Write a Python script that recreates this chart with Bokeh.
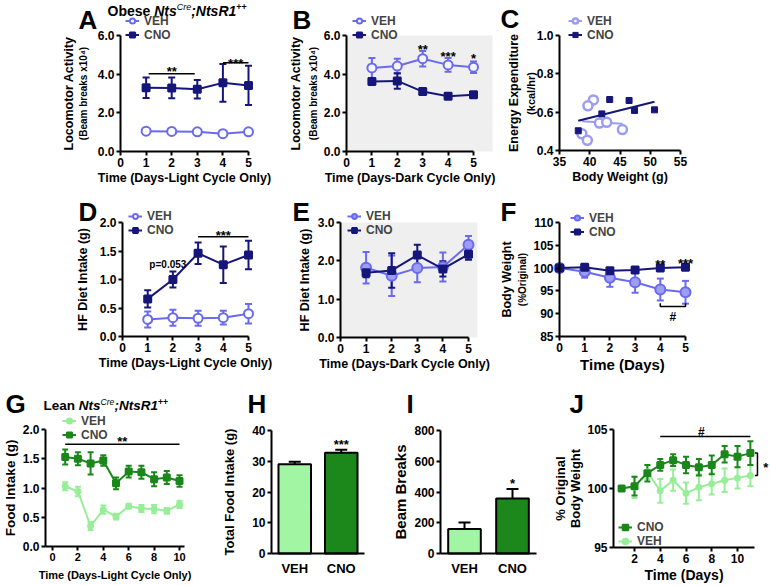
import math
import numpy as np
from bokeh.plotting import figure
from bokeh.layouts import column, row
from bokeh.models import (ColumnDataSource, Whisker, TeeHead, Legend, LegendItem, Label,
                          NumeralTickFormatter, BoxAnnotation, Range1d, FixedTicker)
from bokeh.embed import file_html
from bokeh.resources import INLINE

FONT = "Liberation Sans"
NAVY = "#16167a"
VBLUE = "#6a6aef"
VBLUE_C = "#9c9cf2"
DGREEN = "#1b871b"
LGREEN = "#98ee98"
BAR_VEH = "#a2f5a2"
BAR_CNO = "#1c881c"
PI2 = math.pi / 2

# ---------------- data ----------------
days5 = [1, 2, 3, 4, 5]
A_veh = [1.05, 1.04, 1.02, 0.92, 1.02]
A_veh_err = [0.05, 0.05, 0.05, 0.05, 0.05]
A_cno = [3.30, 3.29, 3.22, 3.55, 3.42]
A_cno_err = [0.53, 0.54, 0.48, 0.98, 1.01]

B_veh = [4.32, 4.42, 4.80, 4.48, 4.36]
B_veh_err = [0.52, 0.38, 0.40, 0.35, 0.30]
B_cno = [3.62, 3.65, 3.10, 2.86, 2.94]
B_cno_err = [0.12, 0.40, 0.14, 0.14, 0.12]

C_veh_bw = [40.6, 39.7, 38.7, 39.6, 41.6, 42.8, 45.4]
C_veh_ee = [0.664, 0.633, 0.487, 0.453, 0.543, 0.547, 0.509]
C_cno_bw = [38.1, 42.0, 43.3, 46.5, 47.4, 50.7]
C_cno_ee = [0.503, 0.591, 0.666, 0.661, 0.609, 0.612]

D_veh = [0.30, 0.33, 0.32, 0.33, 0.40]
D_veh_err = [0.14, 0.14, 0.13, 0.12, 0.17]
D_cno = [0.66, 1.00, 1.46, 1.26, 1.43]
D_cno_err = [0.15, 0.14, 0.19, 0.32, 0.25]

E_veh = [1.82, 1.61, 1.81, 1.84, 2.42]
E_veh_err = [0.41, 0.53, 0.37, 0.38, 0.23]
E_cno = [1.69, 1.75, 2.15, 1.79, 2.17]
E_cno_err = [0.12, 0.45, 0.27, 0.20, 0.14]

days6 = [0, 1, 2, 3, 4, 5]
F_veh = [100.0, 99.2, 97.9, 96.9, 95.3, 94.7]
F_veh_err = [0.0, 1.3, 2.0, 2.3, 2.4, 2.5]
F_cno = [100.0, 100.2, 99.4, 99.6, 100.0, 100.2]
F_cno_err = [0.0, 0.5, 0.6, 0.4, 0.2, 0.5]

days10 = [1, 2, 3, 4, 5, 6, 7, 8, 9, 10]
G_veh = [1.03, 0.94, 0.35, 0.63, 0.51, 0.69, 0.65, 0.64, 0.61, 0.72]
G_veh_err = [0.07, 0.08, 0.07, 0.07, 0.05, 0.04, 0.06, 0.07, 0.05, 0.06]
G_cno = [1.53, 1.50, 1.42, 1.47, 1.08, 1.28, 1.27, 1.15, 1.18, 1.12]
G_cno_err = [0.13, 0.11, 0.19, 0.09, 0.10, 0.10, 0.11, 0.12, 0.11, 0.10]

groups = ["VEH", "CNO"]
H_total = [29.0, 32.8]
H_err = [0.8, 0.9]
I_beams = [160, 358]
I_err = [42, 62]

days11 = [1, 2, 3, 4, 5, 6, 7, 8, 9, 10, 11]
J_cno = [100.0, 100.2, 101.3, 102.0, 102.4, 102.0, 101.8, 102.0, 102.9, 102.7, 103.0]
J_cno_err = [0.1, 0.8, 0.7, 0.5, 0.5, 0.7, 0.7, 0.8, 0.7, 0.9, 1.0]
J_veh = [100.0, 100.1, 101.4, 99.8, 100.7, 99.6, 100.1, 100.4, 100.7, 100.9, 101.1]
J_veh_err = [0.1, 0.9, 0.6, 1.0, 0.9, 0.9, 1.1, 0.9, 1.0, 0.9, 0.9]

# ---------------- helpers ----------------
def lin(m, p):
    v0, p0, v1, p1 = m
    return v0 + (p - p0) * (v1 - v0) / (p1 - p0)


def base(region, xmap, ymap):
    x0, y0, x1, y1 = region
    xr = Range1d(lin(xmap, x0), lin(xmap, x1))
    yr = Range1d(lin(ymap, y1), lin(ymap, y0))
    p = figure(width=x1 - x0, height=y1 - y0, x_range=xr, y_range=yr,
               output_backend="svg", toolbar_location=None,
               min_border_left=0, min_border_right=0, min_border_top=0, min_border_bottom=0)
    p.grid.visible = False
    p.outline_line_color = None
    p.background_fill_color = "white"
    p.border_fill_color = "white"
    return p


def axes(p, xfix, yfix, xt=None, yt=None, yfmt=None, xb=None, yb=None, xlabel="", ylabel="",
         xtfs=12, ytfs=12, xlfs=12.5, ylfs=12.5, ylso=5, xlso=1, xticks=True, xover=None):
    xa, ya = p.xaxis[0], p.yaxis[0]
    xa.fixed_location = xfix
    ya.fixed_location = yfix
    for ax in (xa, ya):
        ax.axis_line_width = 2
        ax.axis_line_color = "black"
        ax.major_tick_line_width = 2
        ax.major_tick_line_color = "black"
        ax.major_tick_out = 4
        ax.major_tick_in = 0
        ax.minor_tick_line_color = None
        ax.major_label_text_font = FONT
        ax.major_label_text_font_style = "bold"
        ax.major_label_text_color = "black"
        ax.axis_label_text_font = FONT
        ax.axis_label_text_font_style = "bold"
        ax.axis_label_text_color = "black"
        ax.major_label_standoff = 2
    if not xticks:
        xa.major_tick_line_color = None
        xa.major_label_standoff = 3
    if xt is not None:
        xa.ticker = FixedTicker(ticks=xt)
    if xover is not None:
        xa.major_label_overrides = xover
    if yt is not None:
        ya.ticker = FixedTicker(ticks=yt)
    if yfmt:
        ya.formatter = NumeralTickFormatter(format=yfmt)
    if xb:
        xa.bounds = xb
    if yb:
        ya.bounds = yb
    xa.axis_label = xlabel
    ya.axis_label = ylabel
    xa.major_label_text_font_size = f"{xtfs}px"
    ya.major_label_text_font_size = f"{ytfs}px"
    xa.axis_label_text_font_size = f"{xlfs}px"
    ya.axis_label_text_font_size = f"{ylfs}px"
    xa.axis_label_standoff = xlso
    ya.axis_label_standoff = ylso


def errbars(p, x, y, e, color, head=7, lw=2, lower=True):
    src = ColumnDataSource(dict(x=x, up=[a + b for a, b in zip(y, e)],
                                lo=[a - b for a, b in zip(y, e)]))
    w = Whisker(source=src, base="x", upper="up", lower="lo", line_color=color, line_width=lw,
                upper_head=TeeHead(size=head, line_color=color, line_width=lw),
                lower_head=TeeHead(size=head, line_color=color, line_width=lw) if lower else None,
                level="underlay")
    p.add_layout(w)


def series(p, x, y, e, color, marker, size, fill, lw=2, head=7, mlw=2):
    errbars(p, x, y, e, color, head)
    l = p.line(x, y, line_color=color, line_width=lw)
    s = p.scatter(x, y, marker=marker, size=size, line_color=color, fill_color=fill, line_width=mlw)
    return [l, s]


def legend(p, items, loc, rowh=13, fs=12):
    lg = Legend(items=[LegendItem(label=k, renderers=r) for k, r in items], location=loc,
                orientation="vertical", label_text_font=FONT, label_text_font_style="bold",
                label_text_font_size=f"{fs}px", glyph_width=14, glyph_height=rowh,
                label_height=rowh, label_standoff=5, spacing=0, padding=0, margin=0,
                border_line_color=None, background_fill_alpha=0)
    p.add_layout(lg)


def plab(p, reg, px, py, s, size, align="left", baseline="middle", angle=0.0, style="bold"):
    x0, y0, x1, y1 = reg
    p.add_layout(Label(x=px - x0, y=y1 - py, x_units="screen", y_units="screen", text=s,
                       text_font=FONT, text_font_style=style, text_font_size=f"{size}px",
                       text_align=align, text_baseline=baseline, angle=angle, text_color="black"))


def dlab(p, x, y, s, size=13, align="center", baseline="middle"):
    p.add_layout(Label(x=x, y=y, text=s, text_font=FONT, text_font_style="bold",
                       text_font_size=f"{size}px", text_align=align, text_baseline=baseline,
                       text_color="black"))


def sigline(p, xs, ys, lw=1.5):
    p.line(xs, ys, line_color="black", line_width=lw)


W_BOLD = {'O': 778, 'b': 611, 'e': 556, 's': 556, ' ': 278, 'N': 722, 't': 333, 'C': 722,
          'r': 389, ';': 333, 'R': 722, '1': 556, '+': 584, 'L': 611, 'a': 556, 'n': 611}
W_REG = {'C': 722, 'r': 333, 'e': 556, '+': 584}


def tw(s, size, bold=True):
    t = W_BOLD if bold else W_REG
    return sum(t.get(c, 556) for c in s) * size / 1000.0


def title(p, reg, x, y, first, size):
    small = size * 0.64
    parts = [(first, size, "bold", 0, True), ("Nts", size, "bold italic", 0, True),
             ("Cre", small, "italic", -4, False), (";NtsR1", size, "bold italic", 0, True),
             ("++", small, "bold", -4, True)]
    for s, fs, st, dy, b in parts:
        plab(p, reg, x, y + dy, s, round(fs, 1), style=st)
        x += tw(s, fs, b)


def letter(p, reg, x, y, s):
    plab(p, reg, x, y, s, 26, baseline="middle")


# ================= Row 1 =================
rA = (0, 0, 285, 192)
pA = base(rA, (0, 120, 5, 248), (0, 151, 6, 35))
rv = series(pA, days5, A_veh, A_veh_err, VBLUE, "circle", 9, "white")
rc = series(pA, days5, A_cno, A_cno_err, NAVY, "square", 7, NAVY)
axes(pA, 0, 0, xt=[0, 1, 2, 3, 4, 5], yt=[0, 2, 4, 6], yfmt="0.0", xb=(0, 5), yb=(0, 6),
     xlabel="Time (Days-Light Cycle Only)", ylabel="Locomotor Activity", ylso=19)
plab(pA, rA, 83, 93, "(Beam breaks x10⁴)", 10, align="center", angle=PI2)
legend(pA, [("VEH", rv), ("CNO", rc)], (125, 150.5))
sigline(pA, [1.1, 2.9], [4.02, 4.02])
dlab(pA, 2.0, 4.14, "**")
sigline(pA, [4.0, 5.0], [4.59, 4.59])
dlab(pA, 4.5, 4.57, "***")
letter(pA, rA, 78, 19, "A")
title(pA, rA, 107, 10, "Obese ", 14)

rB = (285, 0, 500, 192)
pB = base(rB, (0, 346, 5, 473), (0, 151, 6, 35))
pB.add_layout(BoxAnnotation(left=0, right=5.75, bottom=0, top=6, fill_color="#efefef",
                            fill_alpha=1, line_color=None, level="underlay"))
rv = series(pB, days5, B_veh, B_veh_err, VBLUE, "circle", 9, "#f4f4fd")
rc = series(pB, days5, B_cno, B_cno_err, NAVY, "square", 7, NAVY)
axes(pB, 0, 0, xt=[0, 1, 2, 3, 4, 5], yt=[0, 2, 4, 6], yfmt="0.0", xb=(0, 5), yb=(0, 6),
     xlabel="Time (Days-Dark Cycle Only)", ylabel="Locomotor Activity", ylso=18)
plab(pB, rB, 313, 93, "(Beam breaks x10⁴)", 10, align="center", angle=PI2)
legend(pB, [("VEH", rv), ("CNO", rc)], (67, 150.5))
dlab(pB, 3, 5.28, "**")
dlab(pB, 4, 4.89, "***")
dlab(pB, 5, 4.81, "*")
letter(pB, rB, 292, 19, "B")

rC = (500, 0, 771, 192)
pC = base(rC, (35, 559, 55, 680), (0.4, 150, 1.0, 35))
fv = np.polyfit(C_veh_bw, C_veh_ee, 1)
fc = np.polyfit(C_cno_bw, C_cno_ee, 1)
xv = [min(C_veh_bw), max(C_veh_bw)]
xc = [min(C_cno_bw), max(C_cno_bw)]
lv = pC.line(xv, list(np.polyval(fv, xv)), line_color=VBLUE_C, line_width=2)
sv = pC.scatter(C_veh_bw, C_veh_ee, marker="circle", size=9, line_color=VBLUE_C,
                fill_color="white", line_width=2.5)
lc = pC.line(xc, list(np.polyval(fc, xc)), line_color=NAVY, line_width=2)
sc = pC.scatter(C_cno_bw, C_cno_ee, marker="square", size=6, line_color=NAVY, fill_color=NAVY)
axes(pC, 0.4, 35, xt=[35, 40, 45, 50, 55], yt=[0.4, 0.6, 0.8, 1.0], yfmt="0.0", xb=(35, 55),
     yb=(0.4, 1.0), xlabel="Body Weight (g)", ylabel="Energy Expenditure", ylso=13)
plab(pC, rC, 530, 93, "(kcal/hr)", 11, align="center", angle=PI2)
legend(pC, [("VEH", [lv, sv]), ("CNO", [lc, sc])], (68, 150.5))
letter(pC, rC, 500, 18, "C")

# ================= Row 2 =================
rD = (0, 192, 285, 385)
pD = base(rD, (0, 122, 5, 248), (0, 336, 2, 222))
rv = series(pD, days5, D_veh, D_veh_err, VBLUE, "circle", 9, "white")
rc = series(pD, days5, D_cno, D_cno_err, NAVY, "square", 7, NAVY)
axes(pD, 0, 0, xt=[0, 1, 2, 3, 4, 5], yt=[0, 0.5, 1.0, 1.5, 2.0], yfmt="0.0", xb=(0, 5),
     yb=(0, 2), xlabel="Time (Days-Light Cycle Only)", ylabel="HF Diet Intake (g)", ylso=7)
legend(pD, [("VEH", rv), ("CNO", rc)], (128, 148), rowh=12)
dlab(pD, 1.8, 1.26, "p=0.053", size=10)
sigline(pD, [3.0, 5.0], [1.75, 1.75])
dlab(pD, 4.0, 1.78, "***")
letter(pD, rD, 78, 211, "D")

rE = (285, 192, 500, 385)
pE = base(rE, (0, 340, 5, 468), (0, 337, 3, 222))
pE.add_layout(BoxAnnotation(left=0, right=5.35, bottom=0, top=3, fill_color="#efefef",
                            fill_alpha=1, line_color=None, level="underlay"))
rv = series(pE, days5, E_veh, E_veh_err, VBLUE, "circle", 10, "#9d9df3")
rc = series(pE, days5, E_cno, E_cno_err, NAVY, "square", 7, NAVY)
axes(pE, 0, 0, xt=[0, 1, 2, 3, 4, 5], yt=[0, 1, 2, 3], yfmt="0.0", xb=(0, 5), yb=(0, 3),
     xlabel="Time (Days-Dark Cycle Only)", ylabel="HF Diet Intake (g)", ylso=3)
legend(pE, [("VEH", rv), ("CNO", rc)], (62, 148), rowh=12)
letter(pE, rE, 292, 211, "E")

rF = (500, 192, 771, 385)
pF = base(rF, (0, 559, 5, 685), (85, 336, 110, 222))
rv = series(pF, days6, F_veh, F_veh_err, VBLUE, "circle", 10, "#9d9df3")
rc = series(pF, days6, F_cno, F_cno_err, NAVY, "square", 7, NAVY)
axes(pF, 85, 0, xt=[0, 1, 2, 3, 4, 5], yt=[85, 90, 95, 100, 105, 110], xb=(0, 5),
     yb=(85, 110), xlabel="Time (Days)", ylabel="Body Weight", xlfs=15, ylso=16)
plab(pF, rF, 522, 279, "(%Original)", 10, align="center", angle=PI2)
legend(pF, [("VEH", rv), ("CNO", rc)], (70, 146.5))
dlab(pF, 4, 100.8, "**")
dlab(pF, 5, 101.0, "***")
sigline(pF, [4.0, 4.0, 5.0, 5.0], [92.3, 91.6, 91.6, 92.3])
dlab(pF, 4.5, 89.2, "#", size=12)
letter(pF, rF, 500, 211, "F")

# ================= Row 3 =================
rG = (0, 385, 200, 585)
pG = base(rG, (0, 52, 10, 179), (0, 546, 2, 429))
rv = series(pG, days10, G_veh, G_veh_err, LGREEN, "circle", 5, LGREEN, head=6)
rc = series(pG, days10, G_cno, G_cno_err, DGREEN, "square", 6, DGREEN, head=6)
axes(pG, 0, -0.55, xt=[0, 2, 4, 6, 8, 10], yt=[0, 0.5, 1.0, 1.5, 2.0], yfmt="0.0",
     xb=(-0.55, 10.4), yb=(0, 2), xlabel="Time (Days-Light Cycle Only)",
     ylabel="Food Intake (g)", xtfs=11, ytfs=12, xlfs=11, ylfs=13.5, ylso=2, xlso=5)
legend(pG, [("VEH", rv), ("CNO", rc)], (62, 143.5))
sigline(pG, [1.0, 10.0], [1.75, 1.75])
dlab(pG, 5.5, 1.79, "**")
letter(pG, rG, 5, 403, "G")
title(pG, rG, 43, 405, "Lean ", 13.5)

gx = [i + 0.5 for i in range(len(groups))]
gover = {x: g for x, g in zip(gx, groups)}

rH = (200, 385, 375, 585)
pH = base(rH, (0, 271, 2, 364), (0, 553, 40, 430))
errbars(pH, gx, H_total, H_err, "black", head=12, lower=False)
pH.vbar(x=gx, top=H_total, width=0.7, fill_color=[BAR_VEH, BAR_CNO], line_color="black",
        line_width=2)
axes(pH, 0, 0, xt=gx, xover=gover, yt=[0, 10, 20, 30, 40], yb=(0, 40), xb=(0, 2),
     ylabel="Total Food Intake (g)", xtfs=13, ytfs=12, ylfs=13, ylso=12, xticks=False)
dlab(pH, gx[1], 35.4, "***")
letter(pH, rH, 247, 403, "H")

rI = (375, 385, 545, 585)
pI = base(rI, (0, 440, 2, 536), (0, 553, 800, 430))
errbars(pI, gx, I_beams, I_err, "black", head=12, lower=False)
pI.vbar(x=gx, top=I_beams, width=0.68, fill_color=[BAR_VEH, BAR_CNO], line_color="black",
        line_width=2)
axes(pI, 0, 0, xt=gx, xover=gover, yt=[0, 200, 400, 600, 800], yb=(0, 800), xb=(0, 2),
     ylabel="Beam Breaks", xtfs=13, ytfs=12, ylfs=15, ylso=2, xticks=False)
dlab(pI, gx[1], 455, "*")
letter(pI, rI, 406, 403, "I")

rJ = (545, 385, 771, 585)
pJ = base(rJ, (2, 634, 10, 737), (95, 547, 105, 429))
rv = series(pJ, days11, J_veh, J_veh_err, LGREEN, "circle", 5, LGREEN, head=6)
rc = series(pJ, days11, J_cno, J_cno_err, DGREEN, "square", 6, DGREEN, head=6)
axes(pJ, 95, 0.37, xt=[2, 4, 6, 8, 10], yt=[95, 100, 105], xb=(0.37, 11.3), yb=(95, 105),
     xlabel="Time (Days)", ylabel="% Original", xlfs=14, ylfs=13, ylso=16)
plab(pJ, rJ, 575, 488, "Body Weight", 13, align="center", angle=PI2)
legend(pJ, [("CNO", rc), ("VEH", rv)], (73, 37), rowh=14)
sigline(pJ, [4.0, 11.0], [104.4, 104.4])
dlab(pJ, 7.2, 104.77, "#", size=12)
sigline(pJ, [11.35, 11.55, 11.55, 11.35], [103.0, 103.0, 101.1, 101.1])
dlab(pJ, 12.2, 101.8, "*")
letter(pJ, rJ, 569, 403, "J")

layout = column(row(pA, pB, pC), row(pD, pE, pF), row(pG, pH, pI, pJ))
open("out.html", "w").write(file_html(layout, INLINE))
